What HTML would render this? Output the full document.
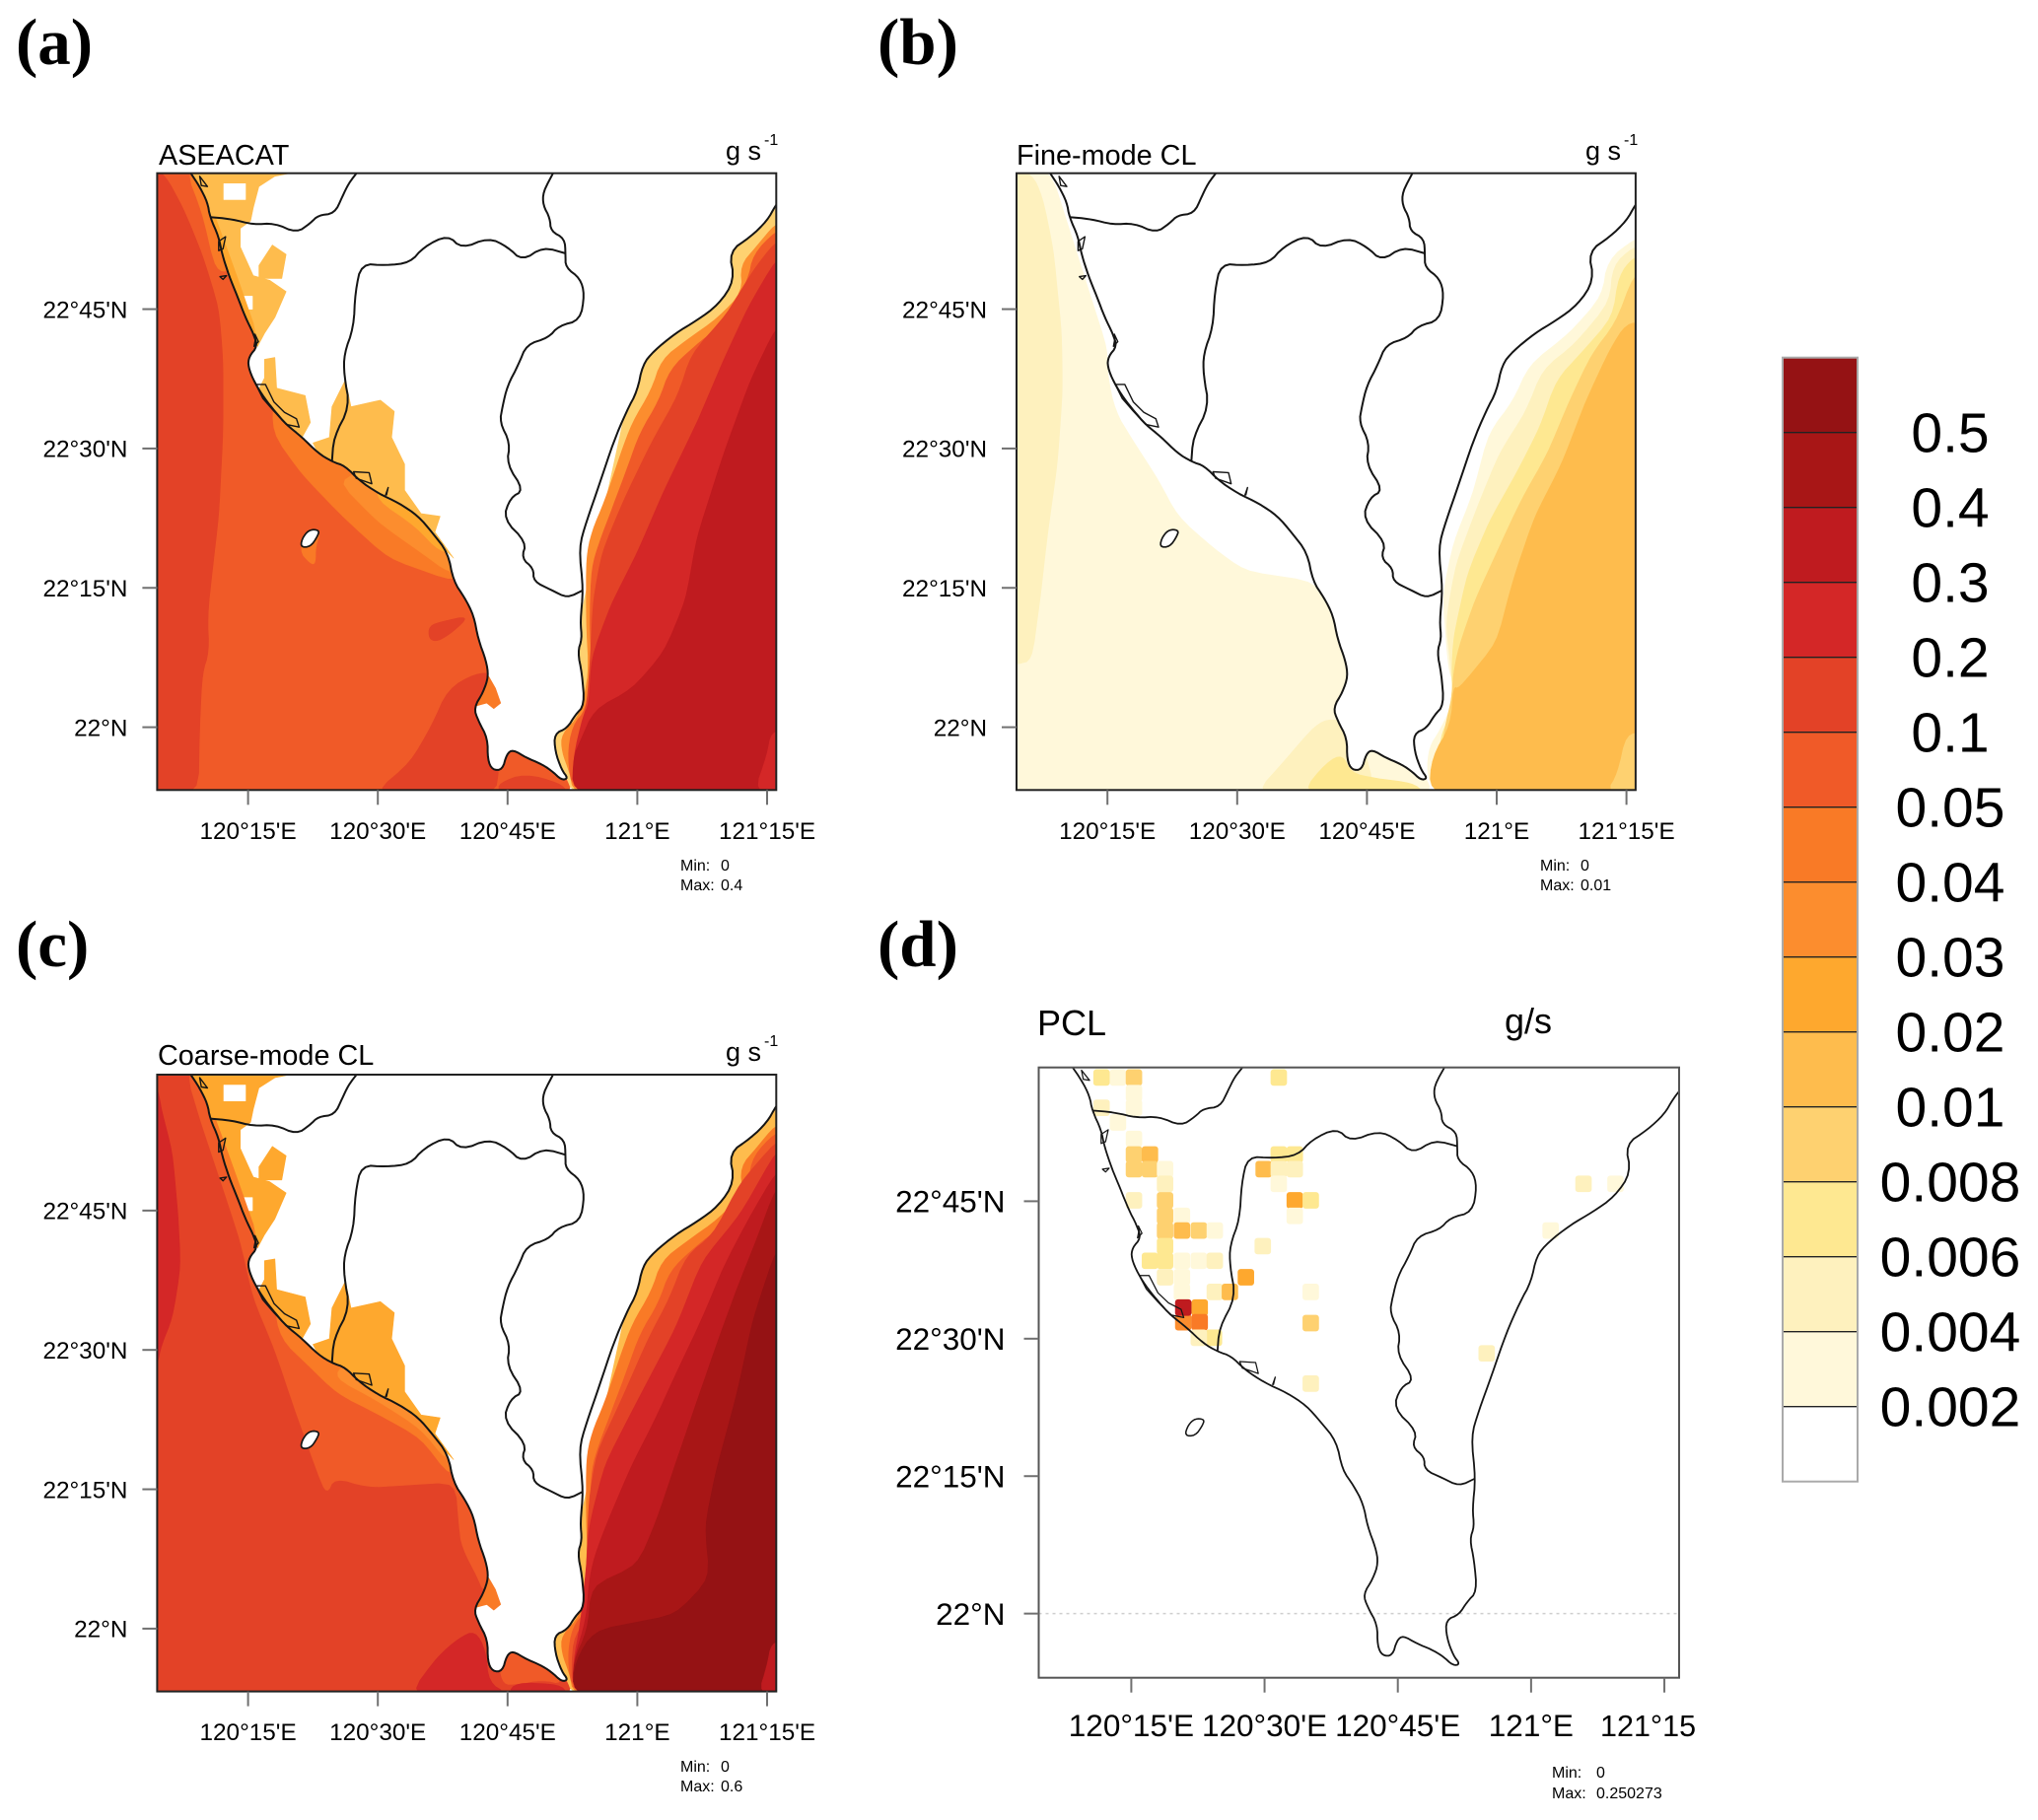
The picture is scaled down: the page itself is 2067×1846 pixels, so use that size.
<!DOCTYPE html>
<html lang="en">
<head>
<meta charset="utf-8">
<title>Emission maps: ASEACAT, Fine-mode CL, Coarse-mode CL, PCL</title>
<style>
html,body{margin:0;padding:0;background:#fff;}
svg{display:block;font-family:"Liberation Sans",sans-serif;}
.pl{font-family:"Liberation Serif",serif;font-weight:bold;font-size:67px;}
.ttl{font-size:28.8px;}
.unit{font-size:27px;}
.sup{font-size:16px;}
.mm{font-size:16px;}
.dttl{font-size:36px;}
.cb{font-size:57px;text-anchor:middle;}
</style>
</head>
<body>
<svg id="figure" xmlns="http://www.w3.org/2000/svg" width="2067" height="1846" viewBox="0 0 2067 1846">
<rect width="2067" height="1846" fill="#fff"/>
<text class="pl" x="16" y="65">(a)</text>
<text class="pl" x="890" y="65">(b)</text>
<text class="pl" x="16" y="980">(c)</text>
<text class="pl" x="890" y="980">(d)</text>

<text class="ttl" x="161" y="167">ASEACAT</text>
<text class="unit" x="736" y="162">g s</text>
<text class="sup" x="775" y="147">-1</text>
<text class="mm" x="690" y="883">Min:</text>
<text class="mm" x="731" y="883">0</text>
<text class="mm" x="690" y="903">Max:</text>
<text class="mm" x="731" y="903">0.4</text>

<text class="ttl" x="1031" y="167">Fine-mode CL</text>
<text class="unit" x="1608" y="162">g s</text>
<text class="sup" x="1647" y="147">-1</text>
<text class="mm" x="1562" y="883">Min:</text>
<text class="mm" x="1603" y="883">0</text>
<text class="mm" x="1562" y="903">Max:</text>
<text class="mm" x="1603" y="903">0.01</text>

<text class="ttl" x="160" y="1080">Coarse-mode CL</text>
<text class="unit" x="736" y="1076">g s</text>
<text class="sup" x="775" y="1061">-1</text>
<text class="mm" x="690" y="1797">Min:</text>
<text class="mm" x="731" y="1797">0</text>
<text class="mm" x="690" y="1817">Max:</text>
<text class="mm" x="731" y="1817">0.6</text>

<text class="dttl" x="1052" y="1050">PCL</text>
<text class="dttl" x="1526" y="1048">g/s</text>
<text class="mm" x="1574" y="1803">Min:</text>
<text class="mm" x="1619" y="1803">0</text>
<text class="mm" x="1574" y="1824">Max:</text>
<text class="mm" x="1619" y="1824">0.250273</text>
</svg>
<script>
// All map coordinates: [arc-minutes east of 120E, arc-minutes north of 22N]
const colorBarLabels = ["0.5","0.4","0.3","0.2","0.1","0.05","0.04","0.03","0.02","0.01","0.008","0.006","0.004","0.002"];
const levelColors = ["#ffffff","#fff8da","#fef1be","#fee891","#fed170","#febc4d","#fea82e","#fc8d2e","#f97a26","#f05a28","#e34227","#d42727","#bf1b1f","#a81616","#951214"];

const lonTickMinutes = [15,30,45,60,75];
const latTickMinutes = [45,30,15,0];
const lonTickLabels = ["120°15'E","120°30'E","120°45'E","121°E","121°15'E"];
const lonTickLabelsD = ["120°15'E","120°30'E","120°45'E","121°E","121°15"];
const latTickLabels = ["22°45'N","22°30'N","22°15'N","22°N"];

const coastline = [[8.4,59.6],[9.4,58.2],[10.3,56.5],[10.6,54.9],[11.6,52.8],[12,50.9],[12.8,48.6],[13.75,46.4],[14.7,44.1],[15.6,42.4],[16.1,41],[15.1,39.9],[15,38.8],[15.75,37.1],[16.9,35.4],[18.1,34],[19.4,32.6],[21.25,31.2],[23.1,29.5],[24.7,28.6],[26.25,28.1],[27.8,26.6],[30,25.2],[32.5,24.1],[34.7,22.7],[36.25,21],[38.1,18.8],[38.75,15.7],[40,14],[41.1,12],[41.6,9.5],[42.5,7.2],[42.8,5.5],[42.2,3.8],[41.1,2.1],[41.6,0.7],[42.7,-1.2],[42.7,-3.5],[43.25,-4.6],[44.4,-4.6],[44.9,-2.9],[45.6,-2.4],[47.2,-3.3],[48.75,-3.9],[50,-4.6],[51.25,-5.7],[52,-5.5],[51.25,-4.6],[50.5,-2.6],[50.4,-0.7],[51.9,-0.1],[52.8,1.3],[53.9,2.4],[53.6,5.8],[53.1,8.1],[53.6,9.5],[53.4,11.4],[53.75,14.8],[53.25,19.3],[54.1,22.1],[55.6,26.1],[57.2,30.6],[58.75,34],[60,36.2],[60.6,39],[61.9,40.5],[64.4,42.4],[66.9,43.8],[69.4,45.5],[71.25,48.1],[70.6,51.2],[73.1,52.8],[75,54.5],[76,56.2],[77,57.4]];
const borderNorth = [[10.6,54.9],[13.1,54.7],[15.6,54.1],[18.1,54.25],[20.6,53.2],[22.2,54.25],[23.1,55.1],[25,55.3],[25.9,57.1],[26.6,58.5],[27.6,59.7]];
const borderEast = [[50.3,59.7],[49.1,57.6],[49.1,56.2],[49.9,54.8],[50,53.4],[51.6,52.6],[51.7,50.9],[51.7,49.5],[53.4,48.3],[53.9,46.6],[53.4,43.8],[50.9,43.2],[49.7,41.9],[47.2,41.2],[46.25,39],[45,36.8],[44.4,34.5],[44.1,32.8],[45.3,30.6],[44.9,28.3],[46.9,25.5],[45.3,24.7],[44.5,22.4],[47.2,19.9],[46.6,18.2],[48,17.1],[48,15.7],[50,14.8],[51.9,13.9],[53.6,14.7]];
const borderInner = [[24.7,28.6],[24.9,31.2],[26.75,34.5],[26.1,37.9],[26.1,40.2],[27.2,43],[27.4,46.9],[28.1,49.9],[30.9,49.7],[33.75,50],[35.3,51.7],[38.1,53],[39.7,51.5],[42.8,52.7],[45,51.7],[46.7,50.2],[49.1,51.7],[51.7,51]];
const lamayIsland = [[21,19.4],[21.4,20.6],[22.2,21.3],[23.25,21.2],[23,20.5],[22.2,19.4]];
const coastalIslets = [
 [[15.9,36.9],[17,36.9],[18,35],[19.2,33.9],[20.6,33.2],[20.9,32.3],[19.4,32.6],[18,34],[16.7,35.4]],
 [[9.4,59.3],[10.3,58.2],[9.6,58.3]],
 [[11.6,52.3],[12.4,52.8],[12.1,51.5],[11.6,51.3]],
 [[11.75,48.5],[12.5,48.6],[12.1,48.2]],
 [[15.8,42.3],[16.2,41.5],[15.7,41],[15.9,42]],
 [[27.2,27.5],[29,27.4],[29.3,26.2],[27.5,26.8]],
 [[30.9,25],[31.2,25.8],[31,25]]
];

const westSea = [[4,60],[20,60],[45,10],[48,-1],[51.8,-5.4],[52.5,-7],[4,-7]];
const eastSea = [[52.5,-7],[51.8,-5.4],[50,-2],[50,1],[53,10],[60,40],[77,58],[77,-7]];

const panelASea = [
 {level:9,pts:westSea},
 {level:10,pts:[[4,60],[5.3,59.6],[7.5,55.9],[9.7,50.9],[11.6,45.2],[12.1,39.6],[12.1,31.7],[11.6,22.7],[10.9,17.1],[10.3,12],[10.5,8.1],[9.7,5.8],[9.4,0.2],[9.25,-7],[4,-7]]},
 {level:10,pts:[[29.7,-7],[33.75,-3.8],[36.25,0.2],[38.1,4.1],[41.25,5.8],[43.5,5.8],[44,-7]]},
 {level:10,pts:[[44,-6],[47,-5],[51,-6],[52,-7],[44,-7]]},
 {level:10,pts:[[35.9,10.9],[37.5,11.4],[40.6,12],[38.75,10.3],[36.9,9.2],[35.9,9.5]]},
 {level:8,pts:[[7.8,60],[9.7,55.4],[11.25,49.2],[13,49],[11,60]]},
 {level:8,pts:[[17.8,31.7],[21.25,27.2],[26.25,22.4],[31.25,18.2],[38.75,15.7],[40,17],[35,25],[25,32],[18,36]]},
 {level:7,pts:[[25.3,26.6],[30,22.1],[35,18.8],[38.4,16.5],[40,17],[36,24],[30,28]]},
 {level:6,pts:[[30,24.4],[34.4,21.6],[37.2,18.8],[39,19],[35,24],[30,26]]},
 {level:8,pts:[[20.9,19],[22.2,17.6],[22.8,17.6],[22.8,19.5],[23.4,21],[21.9,21.3]]},
 {level:4,pts:eastSea},
 {level:7,pts:[[77,54],[76,54.25],[73.75,51.7],[71.9,49.7],[72.2,46.9],[69.4,44.1],[65.6,41.6],[62.8,39.6],[61.6,36.2],[59.4,32.8],[58.1,29.5],[56.25,24.4],[54.7,21],[54.1,18.2],[54.1,11.4],[54.4,5.8],[53.4,1.3],[51.25,-0.7],[51.25,-2.6],[52.2,-4.9],[52.6,-7],[77,-7]]},
 {level:9,pts:[[77,53.4],[76,53.4],[73.4,50.9],[72.8,48.1],[70,43.5],[66.6,41],[63.75,38.5],[62.5,35.1],[60.3,31.7],[59,28.3],[57.2,23.8],[55.6,19.9],[54.7,17.1],[54.5,11.4],[54.7,6.4],[54.1,1.9],[52.5,0.2],[51.9,-3.2],[52.6,-7],[77,-7]]},
 {level:10,pts:[[77,52.3],[76,52.3],[73.4,49.2],[70.3,44.4],[66.25,40.2],[64.7,35.7],[61.6,30.6],[58.4,24.4],[55.9,18.8],[54.9,13.7],[54.5,6.4],[54.1,1.9],[52.8,-2.1],[52.6,-7],[77,-7]]},
 {level:11,pts:[[77,50.3],[76,50.3],[72.8,45.2],[70,39.6],[66.9,32.8],[63.1,25.5],[60,18.8],[56.9,13.1],[54.7,7.5],[54.4,2.4],[53.75,1.3],[52.6,-3.2],[52.6,-7],[77,-7]]},
 {level:12,pts:[[77,43],[76,43],[73.1,37.4],[70,29.5],[66.9,20.5],[65.6,13.7],[63.1,8.1],[59.4,4.1],[55,1.9],[53.4,-1.5],[52.6,-3.2],[52.5,-7],[77,-7]]},
 {level:11,pts:[[75.5,-0.5],[77,-0.5],[77,-7],[73.5,-7],[75,-3]]}
];
const panelALand = [
 {level:5,pts:[[8.4,59.7],[20.3,59.7],[18.1,59.3],[16.25,58.2],[15.6,55.9],[15.3,54.5],[14.1,53.7],[14.1,51.7],[15.6,48.6],[17.5,48.1],[19.4,46.9],[18.1,44.1],[16.9,42.4],[16.1,41],[15.6,42.4],[14.7,44.1],[13.75,46.4],[12.8,48.6],[12,50.9],[11.6,52.8],[10.6,54.9],[10.3,56.5],[9.4,58.2]]},
 {level:0,pts:[[12.2,58.5],[14.7,58.5],[14.7,56.8],[12.2,56.8]]},
 {level:0,pts:[[14.5,46.4],[15.5,46.4],[15.5,45],[14.5,45]]},
 {level:5,pts:[[16.25,49.7],[17.8,51.9],[19.4,50.9],[18.9,48.3],[16.25,48.3]]},
 {level:6,pts:[[10.6,54.9],[11.25,54.8],[12.8,50.9],[14.1,47.5],[15.6,43.5],[16.1,41],[15.6,42.4],[14.7,44.1],[13.75,46.4],[12.8,48.6],[12,50.9],[11.6,52.8]]},
 {level:5,pts:[[16.9,39.6],[18.1,39.8],[18.3,36.5],[21.6,35.7],[22.2,32.8],[21.25,31.2],[19.4,32.6],[18.1,34],[16.9,35.4],[16.3,36.5],[16.9,37.6]]},
 {level:5,pts:[[22.5,30.6],[24.4,31.2],[24.7,34.5],[26.25,37.4],[26.9,34.5],[30.3,35.2],[31.9,34],[31.6,31.2],[33.1,28.3],[33.1,25.5],[35,23],[37.2,22.7],[36.6,21],[38.75,18.2],[38.1,18.8],[36.25,21],[34.7,22.7],[32.5,24.1],[30,25.2],[27.8,26.6],[26.25,28.1],[24.7,28.6],[23.1,29.5]]},
 {level:8,pts:[[42.8,5.5],[43.6,4.2],[44.2,2.6],[43.4,2],[42.6,2.6],[41.4,2.3],[42.2,3.8]]}
];

const panelBSea = [
 {level:1,pts:[[4,60],[8.4,60],[15,40.7],[15,37.9],[15.9,34],[17.7,31.2],[20.9,26.6],[23.1,22.7],[27.2,19.3],[30.9,16.8],[38.75,15.7],[41,13],[48,0],[51.8,-5.4],[52.5,-7],[4,-7]]},
 {level:2,pts:[[4,60],[6.25,59.6],[7.5,57.1],[8.75,51.4],[9.7,42.4],[9.8,36.2],[9.2,28.3],[8.1,21],[7.2,13.7],[6.25,7.2],[4.7,6.8],[4,6.8]]},
 {level:2,pts:[[32.2,-7],[35.3,-3.8],[39,0.2],[40.9,1],[44,0],[46,-7]]},
 {level:3,pts:[[37.5,-7],[40.3,-3.8],[42.2,-2.9],[43.1,-4.9],[45.9,-5.5],[50.3,-6],[51.6,-7]]},
 {level:1,pts:[[52.8,-7],[51.9,-4.9],[52.2,-2.1],[53.4,-0.4],[54.6,1.9],[55,4.7],[54.4,6.4],[53.75,14.3],[55,19.9],[57.2,25],[59.1,31.7],[61.9,35.1],[63.75,39],[68.4,42.4],[72.2,46.4],[72.8,50.3],[76,52.6],[77,52.6],[77,-7]]},
 {level:2,pts:[[53,-7],[53,-3],[54,0],[55,3],[54.7,6.4],[54.1,11.4],[55.3,17.6],[57.8,23.8],[60.3,29.5],[63.4,34],[65.3,38.5],[69.1,41.3],[73.1,45.8],[73.4,49.7],[75.8,51.7],[77,51.7],[77,-7]]},
 {level:3,pts:[[53,-7],[53.5,-1],[54.5,1],[54.9,4],[54.8,6.1],[55,9.7],[56.6,16.5],[59.1,22.1],[62.2,27.2],[65,32.3],[66.9,37.4],[69.7,40.2],[73.4,44.1],[74.1,48.6],[75.8,50.6],[77,50.6],[77,-7]]},
 {level:4,pts:[[53,-7],[54,0],[54.8,3],[55,5.8],[55.6,8.6],[57.5,13.7],[60,18.8],[62.8,24.4],[65.9,29.5],[68.4,35.1],[71,40.2],[73.75,43.5],[75.8,48.6],[77,48.6],[77,-7]]},
 {level:5,pts:[[52.2,-7],[52.5,-3.2],[54.7,0.2],[55,4.4],[55.6,4.1],[60,9.1],[61.9,15.9],[64.4,22.7],[67.5,28.3],[70.3,35.1],[73.1,40.7],[75,43.5],[77,43.5],[77,-7]]},
 {level:4,pts:[[75,-0.7],[77,-0.7],[77,-7],[72.7,-7],[74,-5]]}
];

const panelCSea = [
 {level:10,pts:westSea},
 {level:11,pts:[[4,60],[4.8,57],[5,55.8],[6.25,51.3],[6.9,44.6],[7.2,39],[6.25,33.4],[5,30.6],[4.5,28.4],[4,28]]},
 {level:9,pts:[[7.8,60],[9.7,54.1],[11.9,48],[14.1,41.8],[15.6,35.6],[18.1,30],[20.3,23.9],[23.1,16.6],[24.1,14.4],[25,16.3],[28.75,15.2],[32.5,15.4],[39,15.8],[39.4,11],[39.7,8.8],[41.6,5.4],[42.2,4],[44,4],[43,10],[41,15],[38,20],[30,28],[22,34],[16,45],[11,60]]},
 {level:8,pts:[[18.75,31.2],[21.9,28.4],[25.3,25.3],[30,23.1],[35,20.5],[38.4,16.3],[40,18],[35,24],[28,28],[22,32],[18,35]]},
 {level:7,pts:[[25,27],[30,24.5],[35,21.5],[38,18],[38.5,19.5],[35,23.5],[30,26],[26,28.5]]},
 {level:11,pts:[[33.75,-7],[36.9,-3],[39.4,-1],[41.25,-0.2],[42.5,-2.4],[42.8,-5.8],[45,-7]]},
 {level:9,pts:[[44,-4],[46,-2],[50,-3.5],[51.5,-6],[49,-5.5],[46,-6],[44.5,-6]]},
 {level:11,pts:[[46,-5.8],[51,-6],[52,-7],[45,-7]]},
 {level:5,pts:eastSea},
 {level:8,pts:[[77,54],[76,54.25],[73.75,51.7],[71.9,49.7],[72.2,46.9],[69.4,44.1],[65.6,41.6],[62.8,39.6],[61.6,36.2],[59.4,32.8],[58.1,29.5],[56.25,24.4],[54.7,21],[54.1,18.2],[54.1,11.4],[54.4,5.8],[53.4,1.3],[51.25,-0.7],[51.25,-2.6],[52.2,-4.9],[52.6,-7],[77,-7]]},
 {level:9,pts:[[77,53.4],[76,53.4],[73.4,50.9],[72.8,48.1],[70,43.5],[66.6,41],[63.75,38.5],[62.5,35.1],[60.3,31.7],[59,28.3],[57.2,23.8],[55.6,19.9],[54.7,17.1],[54.5,11.4],[54.7,6.4],[54.1,1.9],[52.5,0.2],[51.9,-3.2],[52.6,-7],[77,-7]]},
 {level:10,pts:[[77,52.4],[76,52.4],[71.9,48],[68.75,42.4],[65.6,40.1],[63.75,35.6],[61.25,31.2],[58.1,24.5],[55.3,18.9],[54.4,13.8],[54.1,6.5],[54.1,1],[52.5,-1.3],[52.4,-7],[77,-7]]},
 {level:11,pts:[[77,51.3],[76,51.3],[71.9,44.6],[67.5,39.6],[64.4,32.3],[60,24.5],[56.25,17.7],[54.4,11],[54.1,6.5],[53.75,3.75],[53.4,0.4],[52.6,-3.5],[52.6,-7],[77,-7]]},
 {level:12,pts:[[77,49.1],[76,49.1],[72.8,44],[70,39],[67.5,33.4],[64.4,27.3],[61.9,22.2],[59.4,17.7],[56.6,11.6],[55,7.7],[54.4,4.9],[54.1,1],[52.6,-3.5],[52.6,-7],[77,-7]]},
 {level:13,pts:[[77,47.4],[76,47.4],[73.75,41.8],[71.6,36.8],[69.4,31.2],[66.9,24.5],[64.4,17.7],[62.2,11.6],[60,6.8],[54.7,4.6],[54.25,-0.2],[52.6,-3.5],[52.6,-7],[77,-7]]},
 {level:14,pts:[[77,40.7],[76,40.7],[73.4,33.4],[71.6,25.6],[69,16.6],[67.8,11],[68.4,5.4],[64.4,1.5],[55,-0.2],[52.8,-3.5],[52.5,-7],[77,-7]]},
 {level:12,pts:[[75.5,-1.5],[77,-1.5],[77,-7],[74,-7],[75,-4]]}
];
const panelCLand = [
 {level:6,pts:[[8.4,59.7],[20.3,59.7],[18.1,59.3],[16.25,58.2],[15.6,55.9],[15.3,54.5],[14.1,53.7],[14.1,51.7],[15.6,48.6],[17.5,48.1],[19.4,46.9],[18.1,44.1],[16.9,42.4],[16.1,41],[15.6,42.4],[14.7,44.1],[13.75,46.4],[12.8,48.6],[12,50.9],[11.6,52.8],[10.6,54.9],[10.3,56.5],[9.4,58.2]]},
 {level:0,pts:[[12.2,58.5],[14.7,58.5],[14.7,56.8],[12.2,56.8]]},
 {level:0,pts:[[14.5,46.4],[15.5,46.4],[15.5,45],[14.5,45]]},
 {level:6,pts:[[16.25,49.7],[17.8,51.9],[19.4,50.9],[18.9,48.3],[16.25,48.3]]},
 {level:8,pts:[[10.6,54.9],[11.25,54.8],[12.8,50.9],[14.1,47.5],[15.6,43.5],[16.1,41],[15.6,42.4],[14.7,44.1],[13.75,46.4],[12.8,48.6],[12,50.9],[11.6,52.8]]},
 {level:6,pts:[[16.9,39.6],[18.1,39.8],[18.3,36.5],[21.6,35.7],[22.2,32.8],[21.25,31.2],[19.4,32.6],[18.1,34],[16.9,35.4],[16.3,36.5],[16.9,37.6]]},
 {level:6,pts:[[22.5,30.6],[24.4,31.2],[24.7,34.5],[26.25,37.4],[26.9,34.5],[30.3,35.2],[31.9,34],[31.6,31.2],[33.1,28.3],[33.1,25.5],[35,23],[37.2,22.7],[36.6,21],[38.75,18.2],[38.1,18.8],[36.25,21],[34.7,22.7],[32.5,24.1],[30,25.2],[27.8,26.6],[26.25,28.1],[24.7,28.6],[23.1,29.5]]},
 {level:8,pts:[[42.8,5.5],[43.6,4.2],[44.2,2.6],[43.4,2],[42.6,2.6],[41.4,2.3],[42.2,3.8]]}
];

const pclLon = [11.65,13.5,15.3,31.6,15.3,15.3,11.65,13.5,15.3,15.3,17.1,15.3,17.1,18.8,31.6,33.4,29.9,31.6,33.4,31.6,18.8,15.3,18.8,18.8,20.7,33.4,35.2,33.4,18.8,20.7,22.6,24.4,29.8,17.1,18.8,20.7,22.6,24.4,18.8,18.8,20.7,27.9,20.7,24.4,26.1,35.2,35.2,35.2,22.7,20.85,22.7,24.3,22.6,20.85,65.9,69.5,62.2,55];
const pclLat = [58.5,58.5,58.5,58.5,56.8,55.2,55.2,53.6,51.8,50.1,50.1,48.5,48.5,48.5,50.1,50.1,48.5,48.5,48.5,46.9,46.9,45.1,45.1,43.4,43.4,45.1,45.1,43.4,41.8,41.8,41.8,41.8,40.1,38.5,38.5,38.5,38.5,38.5,40.1,36.7,36.7,36.7,35.1,35.1,35.1,35.1,31.7,25.1,33.4,31.8,31.8,30.1,30.1,33.4,46.9,46.9,41.8,28.4];
const pclLevel = [3,1,4,3,1,1,2,1,1,4,5,4,4,1,3,3,5,2,2,1,2,2,4,4,1,6,3,1,4,5,4,1,2,3,3,1,1,2,3,2,1,6,1,2,5,1,4,2,6,7,8,3,2,12,2,1,1,2];

const SVGNS = "http://www.w3.org/2000/svg";
const root = document.getElementById("figure");

function mk(tag, attrs, parent) {
  const el = document.createElementNS(SVGNS, tag);
  for (const k in attrs) el.setAttribute(k, attrs[k]);
  (parent || root).appendChild(el);
  return el;
}

function makeAxes(p) {
  return {
    x: function (lon) { return p.left + (lon - p.lonMin) / (p.lonMax - p.lonMin) * p.w; },
    y: function (lat) { return p.top + (p.latMax - lat) / (p.latMax - p.latMin) * p.h; }
  };
}

// Corner rounding with a bounded cut so long off-frame edges stay intact.
function roundCorners(pts, closed) {
  let cur = pts;
  for (let it = 0; it < 2; it++) {
    const out = [];
    const n = cur.length;
    if (!closed) out.push(cur[0]);
    const last = closed ? n : n - 1;
    for (let i = 0; i < last; i++) {
      const a = cur[i], b = cur[(i + 1) % n];
      const dx = b[0] - a[0], dy = b[1] - a[1];
      const len = Math.hypot(dx, dy) || 1;
      const cut = Math.min(0.25, 1.0 / len);
      if (closed || i > 0) out.push([a[0] + dx * cut, a[1] + dy * cut]);
      if (closed || i < last - 1) out.push([b[0] - dx * cut, b[1] - dy * cut]);
    }
    if (!closed) out.push(cur[n - 1]);
    cur = out;
  }
  return cur;
}

function pointString(pts, ax) {
  return pts.map(function (q) { return ax.x(q[0]).toFixed(1) + "," + ax.y(q[1]).toFixed(1); }).join(" ");
}

function drawBands(bands, ax, g, name, smooth) {
  bands.forEach(function (b) {
    const shape = smooth ? roundCorners(b.pts, true) : b.pts;
    const poly = mk("polygon", { points: pointString(shape, ax), fill: levelColors[b.level], stroke: levelColors[b.level], "stroke-width": 0.6, "stroke-linejoin": "round" }, g);
    
    
  });
}

function drawLand(ax, g) {
  const maskPts = roundCorners(coastline, false).concat([[77, 60], [8.2, 60]]);
  const land = mk("polygon", { points: pointString(maskPts, ax), fill: "#fff" }, g);
  
  
}

function drawLines(ax, g, sw) {
  [coastline, borderNorth, borderEast, borderInner].forEach(function (line) {
    const pl = mk("polyline", { points: pointString(roundCorners(line, false), ax), fill: "none", stroke: "#151515", "stroke-width": sw, "stroke-linejoin": "round" }, g);
    
    
  });
  const lamay = mk("polygon", { points: pointString(roundCorners(lamayIsland, true), ax), fill: "#fff", stroke: "#151515", "stroke-width": sw * 0.85, "stroke-linejoin": "round" }, g);
  
  
  coastalIslets.forEach(function (isl) {
    const pg = mk("polygon", { points: pointString(isl, ax), fill: "none", stroke: "#151515", "stroke-width": sw * 0.7, "stroke-linejoin": "round" }, g);
    
    
  });
}

function drawAxes(p, ax, lonLabels) {
  const frame = mk("rect", { x: p.left, y: p.top, width: p.w, height: p.h, fill: "none", stroke: p.frameColor, "stroke-width": 2 });
  
  
  lonTickMinutes.forEach(function (m, i) {
    const x = ax.x(m);
    const t = mk("line", { x1: x, x2: x, y1: p.top + p.h, y2: p.top + p.h + 15, stroke: "#707070", "stroke-width": 2 });
    
    
    const hang = lonLabels[i] === "121°15";
    const lab = mk("text", { x: hang ? x - 65 : x, y: p.top + p.h + p.xLabelDy, "font-size": hang ? 30.5 : p.tickFont, "text-anchor": hang ? "start" : "middle" });
    lab.textContent = lonLabels[i];
    
    
  });
  latTickMinutes.forEach(function (m, i) {
    const y = ax.y(m);
    const t = mk("line", { x1: p.left - 15, x2: p.left, y1: y, y2: y, stroke: "#707070", "stroke-width": 2 });
    
    
    const lab = mk("text", { x: p.left - p.yLabelDx, y: y + p.tickFont * 0.36, "font-size": p.tickFont, "text-anchor": "end" });
    lab.textContent = latTickLabels[i];
    
    
  });
}

function drawFilledPanel(p) {
  const ax = makeAxes(p);
  const clip = mk("clipPath", { id: "clip-" + p.id });
  mk("rect", { x: p.left, y: p.top, width: p.w, height: p.h }, clip);
  const g = mk("g", { "clip-path": "url(#clip-" + p.id + ")" });
  
  
  drawBands(p.sea, ax, g, 'sea-contour-band', true);
  drawLand(ax, g);
  drawBands(p.land, ax, g, 'land-contour-band', false);
  drawLines(ax, g, 2);
  drawAxes(p, ax, lonTickLabels);
}

const commonPanel = { w: 627.9, h: 625.6, lonMin: 4.49, lonMax: 76.06, latMin: -6.76, latMax: 59.63, tickFont: 24.3, xLabelDy: 49.5, yLabelDx: 30, frameColor: "#222" };

drawFilledPanel(Object.assign({}, commonPanel, { id: "a", left: 159.4, top: 175.7, sea: panelASea, land: panelALand }));
drawFilledPanel(Object.assign({}, commonPanel, { id: "b", left: 1031, top: 175.7, sea: panelBSea, land: [] }));
drawFilledPanel(Object.assign({}, commonPanel, { id: "c", left: 159.4, top: 1090, sea: panelCSea, land: panelCLand }));

(function drawPanelD() {
  const p = { id: "d", left: 1053.5, top: 1082.7, w: 649.5, h: 619, lonMin: 4.58, lonMax: 76.66, latMin: -7.0, latMax: 59.6, tickFont: 31.5, xLabelDy: 59.5, yLabelDx: 34, frameColor: "#555" };
  const ax = makeAxes(p);
  const clip = mk("clipPath", { id: "clip-d" });
  mk("rect", { x: p.left, y: p.top, width: p.w, height: p.h }, clip);
  const g = mk("g", { "clip-path": "url(#clip-d)" });
  
  
  const cellW = ax.x(1.85) - ax.x(0);
  const cellH = ax.y(0) - ax.y(1.8);
  pclLon.forEach(function (lon, i) {
    const cell = mk("rect", { x: ax.x(lon) - cellW / 2, y: ax.y(pclLat[i]) - cellH / 2, width: cellW, height: cellH, rx: 3, fill: levelColors[pclLevel[i]] }, g);
    
    
  });
  const grid = mk("line", { x1: p.left, x2: p.left + p.w, y1: ax.y(0), y2: ax.y(0), stroke: "#cfcfcf", "stroke-width": 1.5, "stroke-dasharray": "3 4" }, g);
  
  
  drawLines(ax, g, 1.8);
  drawAxes(p, ax, lonTickLabelsD);
})();

(function drawColorBar() {
  const barLeft = 1808, barTop = 362.7, boxW = 76, boxH = 76;
  const n = levelColors.length;
  for (let i = 0; i < n; i++) {
    const box = mk("rect", { x: barLeft, y: barTop + i * boxH, width: boxW, height: boxH, fill: levelColors[n - 1 - i] });
    
    
    if (i > 0) {
      const sep = mk("line", { x1: barLeft, x2: barLeft + boxW, y1: barTop + i * boxH, y2: barTop + i * boxH, stroke: "#222", "stroke-width": 1.4 });
      
      
    }
  }
  const outline = mk("rect", { x: barLeft, y: barTop, width: boxW, height: boxH * n, fill: "none", stroke: "#aaa", "stroke-width": 2 });
  
  
  colorBarLabels.forEach(function (t, i) {
    const lab = mk("text", { class: "cb", x: 1987 - 9, y: barTop + (i + 1) * boxH + 20 });
    lab.textContent = t;
    
    
  });
})();
</script>
</body>
</html>
